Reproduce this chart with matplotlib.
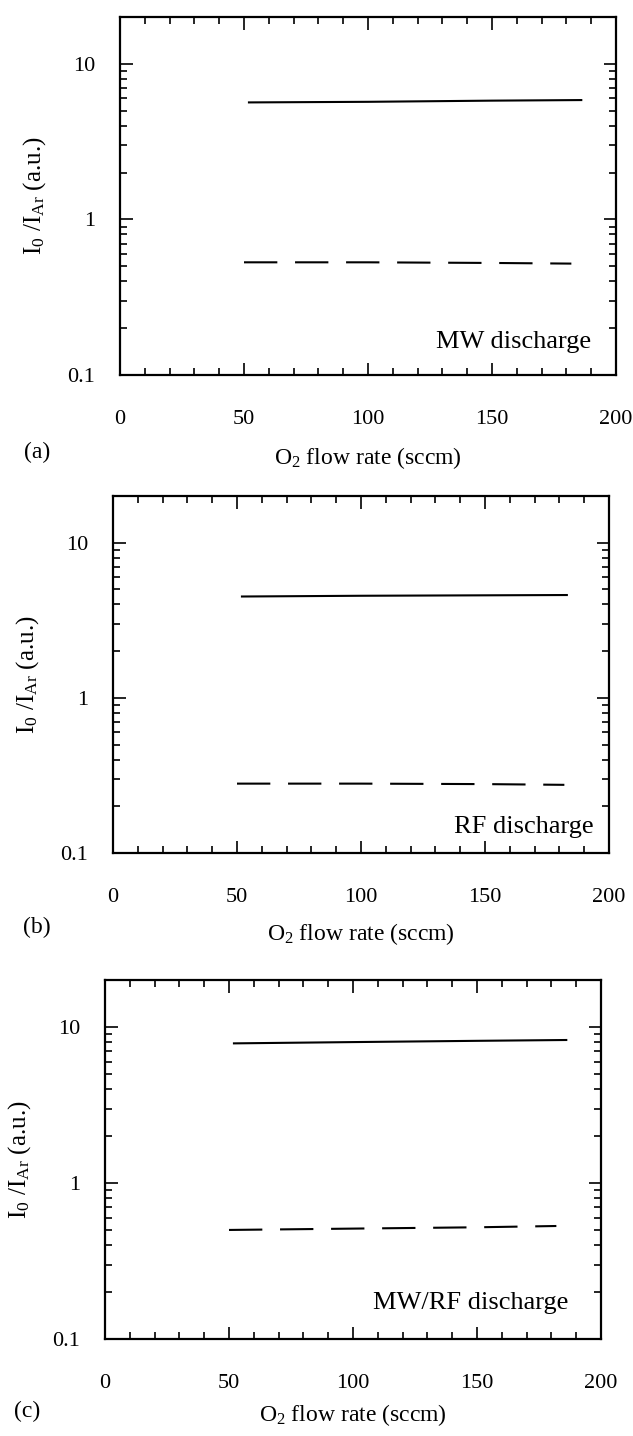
import numpy as np
import matplotlib.pyplot as plt
from matplotlib.ticker import FixedLocator, MultipleLocator, LogLocator, NullFormatter

plt.rcParams['font.family'] = ['Liberation Serif', 'DejaVu Serif']
plt.rcParams['mathtext.fontset'] = 'custom'
plt.rcParams['mathtext.rm'] = 'Liberation Serif'
plt.rcParams['mathtext.default'] = 'regular'

# data (O2 flow rate in sccm, I_O/I_Ar)
x_a_solid = [52, 100, 150, 186]
y_a_solid = [5.65, 5.7, 5.8, 5.85]
x_a_dash = [50, 100, 150, 182]
y_a_dash = [0.53, 0.53, 0.525, 0.52]

x_b_solid = [52, 100, 150, 183]
y_b_solid = [4.5, 4.55, 4.58, 4.6]
x_b_dash = [50, 100, 150, 182]
y_b_dash = [0.28, 0.28, 0.278, 0.275]

x_c_solid = [52, 100, 150, 186]
y_c_solid = [7.85, 8.0, 8.15, 8.25]
x_c_dash = [50, 100, 150, 182]
y_c_dash = [0.50, 0.51, 0.52, 0.53]

panel_labels = ['(a)', '(b)', '(c)']
discharge = ['MW discharge', 'RF discharge', 'MW/RF discharge']
text_pos = [(190, 0.163), (194, 0.147), (187, 0.17)]

W, H = 633, 1436
fig = plt.figure(figsize=(W / 100, H / 100), dpi=100)

# axes boxes in pixels: left, top, right, bottom
boxes = [(120, 17, 616, 375), (113, 496, 609, 853), (105, 980, 601, 1339)]
label_xy = [(37, 452), (37, 927), (27, 1411)]
xlabel_pad = [12, 10, 7]

data = [(x_a_solid, y_a_solid, x_a_dash, y_a_dash),
        (x_b_solid, y_b_solid, x_b_dash, y_b_dash),
        (x_c_solid, y_c_solid, x_c_dash, y_c_dash)]

for i in range(3):
    l, t, r, b = boxes[i]
    ax = fig.add_axes([l / W, 1 - b / H, (r - l) / W, (b - t) / H])
    xs, ys, xd, yd = data[i]
    ax.plot(xs, ys, color='black', lw=1.5)
    ax.plot(xd, yd, color='black', lw=1.5, dashes=(16, 8.5))
    ax.set_yscale('log')
    ax.set_xlim(0, 200)
    ax.set_ylim(0.1, 20)
    ax.xaxis.set_major_locator(FixedLocator([0, 50, 100, 150, 200]))
    ax.xaxis.set_minor_locator(MultipleLocator(10))
    ax.set_yticks([0.1, 1, 10])
    ax.set_yticklabels(['0.1', '1', '10'])
    ax.yaxis.set_minor_locator(LogLocator(base=10, subs=np.arange(2, 10)))
    ax.yaxis.set_minor_formatter(NullFormatter())
    ax.tick_params(axis='both', which='both', direction='in', top=True, right=True,
                   labelsize=16, width=1.2, colors='black')
    ax.tick_params(axis='x', which='major', length=9, pad=25)
    ax.tick_params(axis='x', which='minor', length=5)
    ax.tick_params(axis='y', which='major', length=9, pad=18)
    ax.tick_params(axis='y', which='minor', length=5)
    for s in ax.spines.values():
        s.set_linewidth(1.6)
    ax.set_ylabel(r'I$_0$ /I$_{Ar}$ (a.u.)', fontsize=18, labelpad=14)
    ax.set_xlabel(r'O$_2$ flow rate (sccm)', fontsize=17, labelpad=xlabel_pad[i])
    ax.text(text_pos[i][0], text_pos[i][1], discharge[i], fontsize=19,
            ha='right', va='center')
    fig.text(label_xy[i][0] / W, 1 - label_xy[i][1] / H, panel_labels[i],
             fontsize=17, ha='center', va='center')

fig.savefig('out.png', dpi=100)
